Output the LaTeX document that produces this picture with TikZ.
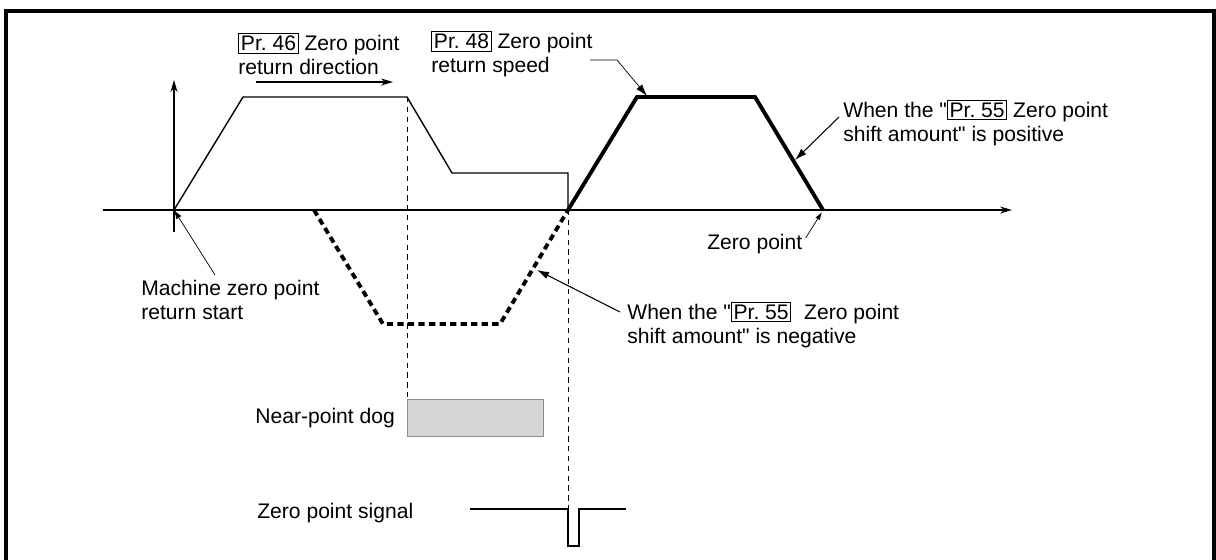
\documentclass[tikz,border=0pt]{standalone}
\usepackage{fontspec}
\setmainfont{Liberation Sans}
\usetikzlibrary{arrows.meta,positioning,calc}
\definecolor{Ink}{HTML}{000000}
\definecolor{DogFill}{HTML}{D6D6D6}
\definecolor{DogLine}{HTML}{8C8C8C}
\newcommand{\prm}[1]{{\setlength{\fboxsep}{1pt}\setlength{\fboxrule}{0.5pt}\fbox{Pr.~#1}}}
\newcommand{\dqt}{\XeTeXglyph\XeTeXcharglyph"22\relax}
\tikzset{
 lbl/.style={font=\fontsize{12}{13.6}\selectfont,inner sep=0pt,align=left,anchor=west,text=Ink},
 axis/.style={-{Stealth[length=2.4mm,width=1.4mm]},line width=.7pt,draw=Ink},
 feed/.style={line width=.8pt,draw=Ink,line join=miter},
 shiftpos/.style={line width=2.2pt,draw=Ink,line join=miter},
 shiftneg/.style={shiftpos,dash pattern=on 3.6pt off 2.4pt},
 guide/.style={line width=.5pt,draw=Ink,dash pattern=on 3pt off 2.6pt},
 lead/.style={-{Latex[length=2.4mm,width=1.5mm]},line width=.4pt,draw=Ink},
 frame/.style={line width=2.3pt,draw=Ink}
}
\begin{document}
\begin{tikzpicture}[x=0.02cm,y=-0.02cm]
\useasboundingbox (0,0) rectangle (1216,560);
\draw[frame] (6,562) -- (6,11) -- (1214,11) -- (1214,562);
% axes
\coordinate (O) at (174,210);
\draw[axis] (103,210) -- (1012,210);
\draw[axis] (174,232) -- (174,80);
% speed profiles
\draw[feed] (O) -- (243,97) -- (407,97) -- (452,173) -- (568,173) -- (568,210);
\draw[shiftpos] (568,210) -- (637,97) -- (755,97) -- (823,210);
\draw[shiftneg] (314,210) -- (383,324) -- (500,324) -- (568,210);
\draw[guide] (407,97) -- (407,399);
\draw[guide] (568,210) -- (568,509);
% signals
\draw[fill=DogFill,draw=DogLine,line width=.4pt] (407,399) rectangle (543,436);
\draw[feed,line width=.6pt] (470,509) -- (568,509) -- (568,546) -- (579,546) -- (579,509) -- (626,509);
% labels
\node[lbl] (dir) at (238,54) {\prm{46} Zero point\\return direction};
\node[lbl] (spd) at (431,54) {\prm{48} Zero point\\return speed};
\node[lbl] (pos) at (843,123) {When the \dqt\prm{55} Zero point\\shift amount\dqt{} is positive};
\node[lbl] (neg) at (627,325) {When the \dqt\prm{55}\hspace{4pt} Zero point\\shift amount\dqt{} is negative};
\node[lbl] (zp) at (707,244) {Zero point};
\node[lbl] (mstart) at (141,300) {Machine zero point\\return start};
\node[lbl] (dog) at (255,418) {Near-point dog};
\node[lbl] (sig) at (257,513) {Zero point signal};
% leaders
\coordinate (dirA) at (256,82);
\coordinate (dirB) at (393,82);
\draw[axis] (dirA) -- (dirB);
\coordinate (spdTip) at (647,96);
\draw[lead] (590,60) -- (617,60) -- (spdTip);
\coordinate (posTip) at (795,160);
\draw[lead,line width=.6pt] ($(pos.west)+(-4,-6)$) -- (posTip);
\coordinate (zpTip) at (822,212);
\draw[lead,-{Latex[length=1.6mm,width=1mm]}] ($(zp.east)+(3,-6)$) -- (zpTip);
\coordinate (negTip) at (537,270);
\draw[lead,line width=.6pt] ($(neg.west)+(-7,-13)$) -- (negTip);
\draw[lead,-{Latex[length=1.8mm,width=1.2mm]}] ($(mstart.north west)+(74,-5)$) -- (O);
\end{tikzpicture}
\end{document}
